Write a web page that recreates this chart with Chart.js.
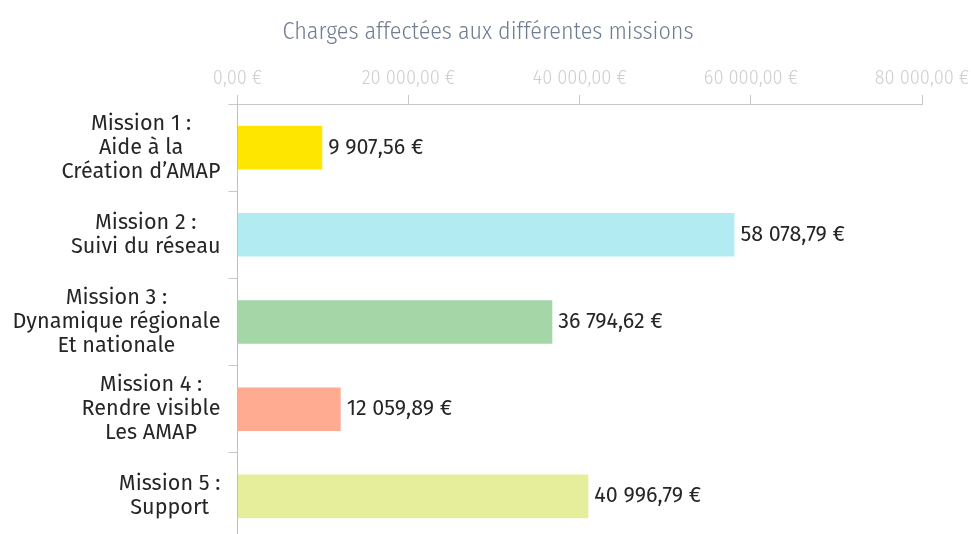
<!DOCTYPE html>
<html>
<head>
<meta charset="utf-8">
<script src="https://cdn.jsdelivr.net/npm/chart.js@4"></script>
<style>
  html, body { margin: 0; padding: 0; background: #fff; overflow: hidden; }
  #wrap { width: 971px; height: 540px; }
</style>
</head>
<body>
<div id="wrap"><canvas id="chart" width="971" height="540"></canvas></div>
<script>
var chartTitle = 'Charges affectées aux différentes missions';
var categories = [
    ['Mission 1 :', 'Aide à la', 'Création d\u2019AMAP'],
    ['Mission 2 :', 'Suivi du réseau'],
    ['Mission 3 :', 'Dynamique régionale', 'Et nationale'],
    ['Mission 4 :', 'Rendre visible', 'Les AMAP'],
    ['Mission 5 :', 'Support']
];
var amounts = [9907.56, 58078.79, 36794.62, 12059.89, 40996.79];
var barColors = ['#ffe600', '#b2ebf2', '#a5d6a7', '#ffab91', '#e6ee9c'];
var axisTicks = [0, 20000, 40000, 60000, 80000];

var FONT = '"Fira Sans", "Open Sans", "Noto Sans", sans-serif';
var NARROW = '"Fira Sans Condensed", "Liberation Sans Narrow", "DejaVu Sans Condensed", sans-serif';

function euro(v) {
    var parts = v.toFixed(2).split('.');
    var ent = parts[0].replace(/\B(?=(\d{3})+(?!\d))/g, ' ');
    return ent + ',' + parts[1] + ' €';
}

// title centred on the whole page, not on the padded layout
var titlePlugin = {
    id: 'titlePlugin',
    afterDraw: function(chart) {
        var ctx = chart.ctx;
        ctx.save();
        ctx.font = '300 24px ' + NARROW;
        ctx.fillStyle = '#707d90';
        ctx.textAlign = 'center';
        ctx.textBaseline = 'middle';
        ctx.fillText(chartTitle, 488, 32);
        ctx.restore();
    }
};

// category labels: lines centred inside a right-aligned block
var catLabels = {
    id: 'catLabels',
    afterDraw: function(chart) {
        var ctx = chart.ctx;
        var y = chart.scales.y;
        var right = chart.chartArea.left - 17;
        ctx.save();
        ctx.font = '21.6px ' + FONT;
        ctx.fillStyle = '#262626';
        ctx.textAlign = 'center';
        ctx.textBaseline = 'middle';
        categories.forEach(function(lines, i) {
            var w = 0;
            lines.forEach(function(l) { w = Math.max(w, ctx.measureText(l).width); });
            var cx = right - w / 2;
            var lh = 24;
            var cy = y.getPixelForValue(i);
            var top = cy - (lines.length - 1) * lh / 2;
            lines.forEach(function(l, j) { ctx.fillText(l, cx, top + j * lh); });
        });
        ctx.restore();
    }
};

var valueLabels = {
    id: 'valueLabels',
    afterDatasetsDraw: function(chart) {
        var ctx = chart.ctx;
        var meta = chart.getDatasetMeta(0);
        ctx.save();
        ctx.font = '21.5px ' + FONT;
        ctx.fillStyle = '#262626';
        ctx.textAlign = 'left';
        ctx.textBaseline = 'middle';
        meta.data.forEach(function(bar, i) {
            ctx.fillText(euro(amounts[i]), bar.x + 6, bar.y);
        });
        ctx.restore();
    }
};

new Chart(document.getElementById('chart').getContext('2d'), {
    type: 'bar',
    data: {
        labels: categories.map(function(c) { return c.join(' '); }),
        datasets: [{
            data: amounts,
            backgroundColor: barColors,
            borderWidth: 0,
            categoryPercentage: 1,
            barPercentage: 0.5
        }]
    },
    options: {
        indexAxis: 'y',
        responsive: false,
        animation: false,
        layout: { padding: { left: 0, right: 49, top: 104 - 58, bottom: 0 } },
        plugins: {
            legend: { display: false },
            tooltip: { enabled: false },
            title: { display: false }
        },
        scales: {
            x: {
                position: 'top',
                min: 0,
                max: 80000,
                afterBuildTicks: function(s) { s.ticks = axisTicks.map(function(v) { return { value: v }; }); },
                afterFit: function(s) { s.height = 58; s.paddingLeft = 0; s.paddingRight = 0; },
                grid: { drawOnChartArea: false, tickLength: 9, color: '#c8c8c8' },
                border: { color: '#c8c8c8' },
                ticks: {
                    color: '#cfcfcf',
                    padding: 5,
                    maxRotation: 0,
                    font: { family: NARROW, size: 20, weight: 300 },
                    callback: function(v) { return euro(v); }
                }
            },
            y: {
                afterFit: function(s) { s.width = 237.5; s.paddingTop = 0; s.paddingBottom = 0; },
                grid: { drawOnChartArea: false, tickLength: 9, color: '#c8c8c8', offset: true },
                border: { color: '#c0c0c0' },
                ticks: { display: false }
            }
        }
    },
    plugins: [titlePlugin, catLabels, valueLabels]
});
</script>
</body>
</html>
